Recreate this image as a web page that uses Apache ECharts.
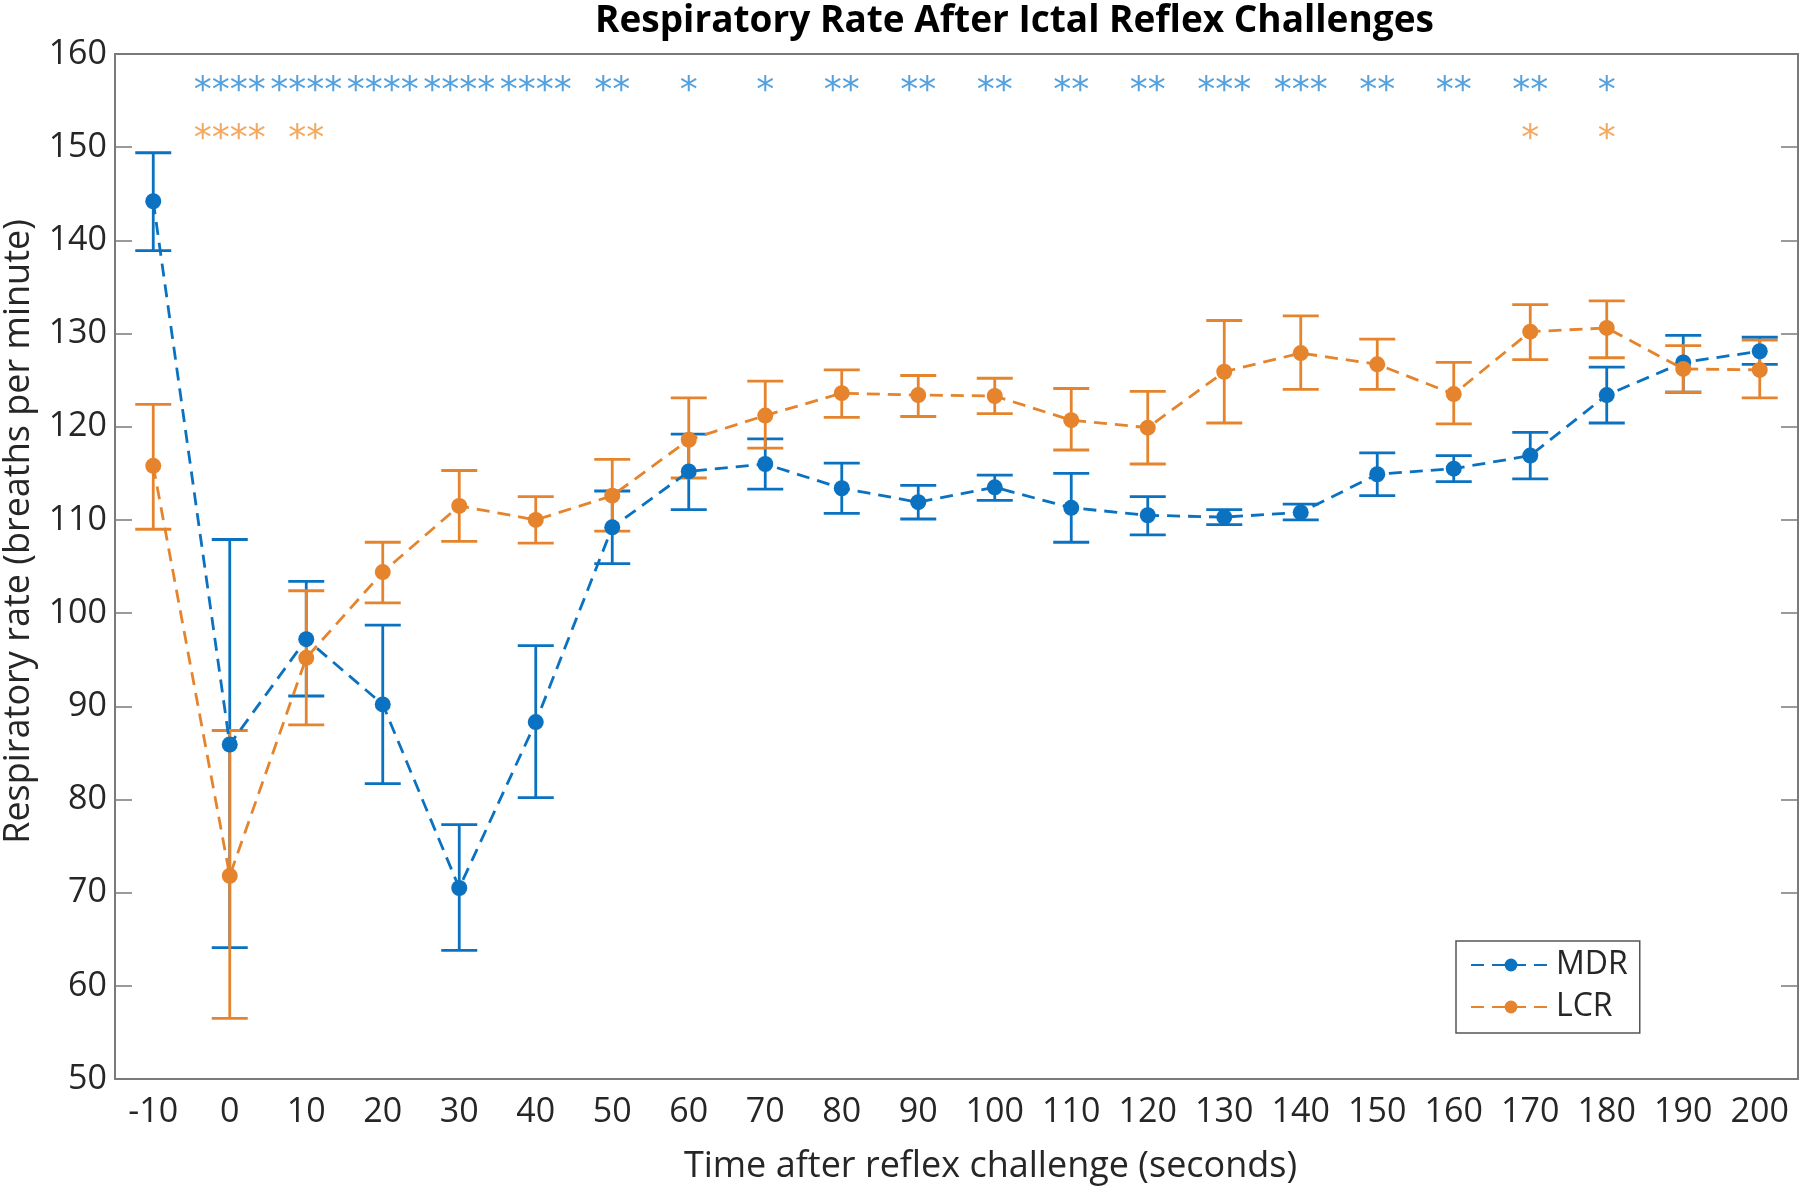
<!DOCTYPE html>
<html>
<head>
<meta charset="utf-8">
<script src="https://cdn.jsdelivr.net/npm/echarts@6/dist/echarts.min.js"></script>
<style>
html,body{margin:0;padding:0;background:#fff;}
#chart{width:1800px;height:1187px;}
</style>
</head>
<body>
<div id="chart"></div>
<script>
// ---- data ----
const categories = ['-10','0','10','20','30','40','50','60','70','80','90','100','110','120','130','140','150','160','170','180','190','200'];
const mdrMean  = [144.2, 85.9, 97.2, 90.2, 70.5, 88.3, 109.2, 115.2, 116.0, 113.4, 111.9, 113.5, 111.3, 110.5, 110.3, 110.8, 114.9, 115.5, 116.9, 123.4, 126.9, 128.1];
const mdrUpper = [149.4, 107.9, 103.4, 98.7, 77.3, 96.5, 113.1, 119.2, 118.7, 116.1, 113.7, 114.8, 115.0, 112.5, 111.1, 111.7, 117.2, 116.9, 119.4, 126.4, 129.8, 129.6];
const mdrLower = [138.9, 64.1, 91.1, 81.7, 63.8, 80.2, 105.3, 111.1, 113.3, 110.7, 110.1, 112.1, 107.6, 108.4, 109.5, 110.0, 112.6, 114.1, 114.4, 120.4, 123.7, 126.7];
const lcrMean  = [115.8, 71.8, 95.2, 104.4, 111.5, 110.0, 112.6, 118.6, 121.2, 123.6, 123.4, 123.3, 120.7, 119.9, 125.9, 127.9, 126.7, 123.5, 130.2, 130.6, 126.2, 126.1];
const lcrUpper = [122.4, 87.4, 102.4, 107.6, 115.3, 112.5, 116.5, 123.1, 124.9, 126.1, 125.5, 125.2, 124.1, 123.8, 131.4, 131.9, 129.4, 126.9, 133.1, 133.5, 128.7, 129.3];
const lcrLower = [109.0, 56.5, 88.0, 101.1, 107.7, 107.5, 108.8, 114.5, 117.7, 121.0, 121.1, 121.4, 117.5, 116.0, 120.4, 124.0, 124.0, 120.3, 127.2, 127.4, 123.7, 123.1];
const mdrStars = ['', '****','****','****','****','****','**','*','*','**','**','**','**','**','***','***','**','**','**','*','',''];
const lcrStars = ['', '****','**','','','','','','','','','','','','','','','','*','*','',''];
const mdrStarLevel = 157.0;
const lcrStarLevel = 151.9;
const yTicks = { min: 50, max: 160, interval: 10 };

// ---- styles ----
const BLUE = '#0a72c0';
const ORANGE = '#e5842c';
const BLUE_STAR = '#2a8ad6';
const ORANGE_STAR = '#f0943a';
const FONT = '"Open Sans", "Noto Sans", sans-serif';
const AXIS_COLOR = '#7a7a7a';
const TEXT_COLOR = '#262626';

function errorSeries(name, lower, upper, color) {
  return {
    type: 'custom',
    name: name + ' err',
    xAxisIndex: 0, yAxisIndex: 0,
    silent: true,
    data: categories.map((c, i) => [i, lower[i], upper[i]]),
    renderItem: function (params, api) {
      const i = api.value(0);
      const lo = api.coord([i, api.value(1)]);
      const hi = api.coord([i, api.value(2)]);
      const w = 18;
      const st = { stroke: color, lineWidth: 2.8, fill: null };
      return {
        type: 'group',
        children: [
          { type: 'line', shape: { x1: lo[0], y1: lo[1], x2: hi[0], y2: hi[1] }, style: st },
          { type: 'line', shape: { x1: hi[0] - w, y1: hi[1], x2: hi[0] + w, y2: hi[1] }, style: st },
          { type: 'line', shape: { x1: lo[0] - w, y1: lo[1], x2: lo[0] + w, y2: lo[1] }, style: st }
        ]
      };
    },
    z: 2
  };
}

function lineSeries(name, data, color, z) {
  return {
    type: 'line',
    name: name,
    data: data,
    symbol: 'circle',
    symbolSize: 16,
    itemStyle: { color: color },
    lineStyle: { color: color, width: 2.8, type: [13, 8] },
    z: z
  };
}

function starSeries(stars, level, color) {
  return {
    type: 'scatter',
    silent: true,
    symbolSize: 0,
    data: categories.map((c, i) => [i, level]),
    label: {
      show: true,
      position: 'inside',
      formatter: p => stars[p.dataIndex],
      color: color,
      fontFamily: '"DejaVu Sans", sans-serif',
      fontSize: 36,
      offset: [0, 10]
    },
    z: 5
  };
}

const chart = echarts.init(document.getElementById('chart'), null, { renderer: 'canvas' });
chart.setOption({
  backgroundColor: '#fff',
  animation: false,
  title: {
    text: 'Respiratory Rate After Ictal Reflex Challenges',
    left: 590, top: -2,
    textStyle: { fontFamily: FONT, fontWeight: 'bold', fontSize: 37, color: '#000' }
  },
  legend: {
    orient: 'vertical',
    left: 1456, top: 941,
    data: ['MDR', 'LCR'],
    backgroundColor: '#fff',
    borderColor: '#555',
    borderWidth: 1.5,
    borderRadius: 0,
    padding: [8, 12, 10, 14],
    itemGap: 10,
    itemWidth: 80,
    itemHeight: 16,
    textStyle: { fontFamily: FONT, fontSize: 32, color: TEXT_COLOR }
  },
  grid: { left: 115, right: 2, top: 54, bottom: 108, containLabel: false, outerBoundsMode: 'none' },
  xAxis: [{
    type: 'category',
    data: categories,
    boundaryGap: true,
    position: 'bottom',
    name: 'Time after reflex challenge (seconds)',
    nameLocation: 'middle',
    nameGap: 70,
    nameTextStyle: { fontFamily: FONT, fontSize: 36, color: TEXT_COLOR, padding: [0, 0, 0, 68] },
    axisLine: { lineStyle: { color: AXIS_COLOR, width: 2 } },
    axisTick: { inside: true, alignWithLabel: true, length: 17, lineStyle: { color: AXIS_COLOR, width: 1.5 } },
    axisLabel: { fontFamily: FONT, fontSize: 34, color: TEXT_COLOR, margin: 16, interval: 0 },
    splitLine: { show: false }
  }, {
    type: 'category',
    data: categories,
    boundaryGap: true,
    position: 'top',
    axisLine: { lineStyle: { color: AXIS_COLOR, width: 2 } },
    axisTick: { inside: true, alignWithLabel: true, length: 17, lineStyle: { color: AXIS_COLOR, width: 1.5 } },
    axisLabel: { show: false },
    splitLine: { show: false }
  }],
  yAxis: [{
    type: 'value',
    min: yTicks.min, max: yTicks.max, interval: yTicks.interval,
    position: 'left',
    name: 'Respiratory rate (breaths per minute)',
    nameLocation: 'middle',
    nameGap: 78,
    nameTextStyle: { fontFamily: FONT, fontSize: 36, color: TEXT_COLOR, padding: [0, 0, 0, 70] },
    axisLine: { show: true, lineStyle: { color: AXIS_COLOR, width: 2 } },
    axisTick: { show: true, inside: true, length: 17, lineStyle: { color: AXIS_COLOR, width: 1.5 } },
    axisLabel: { fontFamily: FONT, fontSize: 34, color: TEXT_COLOR, margin: 8 },
    splitLine: { show: false }
  }, {
    type: 'value',
    min: yTicks.min, max: yTicks.max, interval: yTicks.interval,
    position: 'right',
    axisLine: { show: true, lineStyle: { color: AXIS_COLOR, width: 2 } },
    axisTick: { show: true, inside: true, length: 17, lineStyle: { color: AXIS_COLOR, width: 1.5 } },
    axisLabel: { show: false },
    splitLine: { show: false }
  }],
  series: [
    errorSeries('MDR', mdrLower, mdrUpper, BLUE),
    lineSeries('MDR', mdrMean, BLUE, 3),
    errorSeries('LCR', lcrLower, lcrUpper, ORANGE),
    lineSeries('LCR', lcrMean, ORANGE, 4),
    starSeries(mdrStars, mdrStarLevel, BLUE_STAR),
    starSeries(lcrStars, lcrStarLevel, ORANGE_STAR)
  ]
});
</script>
</body>
</html>
